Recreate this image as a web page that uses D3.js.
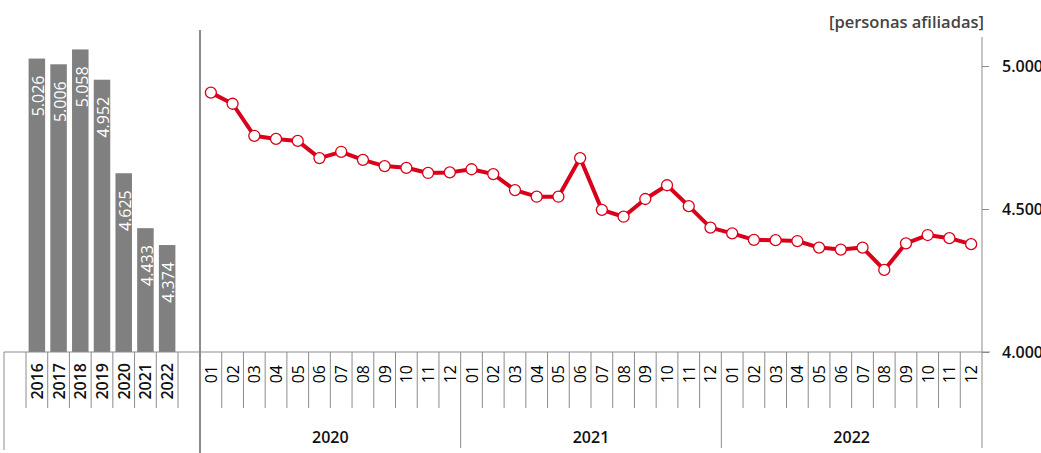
<!DOCTYPE html>
<html>
<head>
  <style>
    body { margin: 0; background: #fff; }
    svg { font-family: "Open Sans", sans-serif; }
  </style>
</head>
<body>
  <svg id="chart" width="1041" height="453"></svg>
  <script src="https://d3js.org/d3.v7.min.js"></script>
  <script>
    // yearly averages (bars)
    const years = ['2016', '2017', '2018', '2019', '2020', '2021', '2022'];
    const yearValues = [5026, 5006, 5058, 4952, 4625, 4433, 4374];

    // monthly figures (line)
    const monthYears = ['2020', '2021', '2022'];
    const monthNames = ['01', '02', '03', '04', '05', '06', '07', '08', '09', '10', '11', '12'];
    const monthValues = [
      4907, 4868, 4756, 4745, 4738, 4678, 4700, 4672, 4650, 4644, 4626, 4628,
      4639, 4622, 4566, 4543, 4543, 4678, 4497, 4473, 4535, 4583, 4510, 4435,
      4415, 4392, 4391, 4388, 4365, 4358, 4365, 4287, 4380, 4409, 4398, 4377
    ];
    const yTicks = [4000, 4500, 5000];

    const months = [];
    monthYears.forEach(y => monthNames.forEach(m => months.push(y + '-' + m)));

    const svg = d3.select('#chart');
    const axisGrey = '#8c8c8c';
    const red = '#d9001b';

    const y = d3.scaleLinear().domain([4000, 5000]).range([352, 66]);
    const xBar = d3.scaleBand().domain(years).range([26, 178]).paddingInner(0.24).paddingOuter(0.12);
    const xMonth = d3.scaleBand().domain(months).range([200, 982]);

    // bars
    svg.selectAll('.bar')
      .data(years)
      .enter()
      .append('rect')
      .attr('class', 'bar')
      .attr('x', d => xBar(d))
      .attr('width', xBar.bandwidth())
      .attr('y', (d, i) => y(yearValues[i]))
      .attr('height', (d, i) => y(4000) - y(yearValues[i]))
      .attr('fill', '#808080');

    // bar value labels
    svg.selectAll('.barlabel')
      .data(years)
      .enter()
      .append('text')
      .attr('transform', (d, i) => `translate(${xBar(d) + xBar.bandwidth() - 1}, ${y(yearValues[i]) + 17}) rotate(-90)`)
      .attr('text-anchor', 'end')
      .attr('fill', '#fff')
      .attr('font-size', 16)
      .text((d, i) => d3.format(',')(yearValues[i]).replace(',', '.'));

    // axis frame lines
    const lines = svg.append('g').attr('stroke', axisGrey).attr('fill', 'none');
    lines.append('line').attr('x1', 4).attr('x2', 990).attr('y1', y(4000)).attr('y2', y(4000));
    lines.append('line').attr('x1', 4).attr('x2', 4).attr('y1', y(4000)).attr('y2', 450);
    lines.append('line').attr('x1', 200).attr('x2', 200).attr('y1', 30).attr('y2', 453).attr('stroke-width', 2);
    lines.append('line').attr('x1', 982).attr('x2', 982).attr('y1', 37).attr('y2', 448);

    // bar category ticks
    const barStep = xBar.step();
    const barEdges = years.map(d => xBar(d) - xBar.paddingInner() * barStep / 2);
    barEdges.push(barEdges[barEdges.length - 1] + barStep);
    lines.selectAll('.bartick')
      .data(barEdges)
      .enter()
      .append('line')
      .attr('x1', d => d).attr('x2', d => d)
      .attr('y1', y(4000)).attr('y2', 408);

    svg.selectAll('.yearlabel')
      .data(years)
      .enter()
      .append('text')
      .attr('transform', d => `translate(${xBar(d) + xBar.bandwidth() / 2 + 6}, 363) rotate(-90)`)
      .attr('text-anchor', 'end')
      .attr('fill', '#111')
      .attr('font-size', 16)
      .attr('font-weight', 600)
      .text(d => d);

    // month ticks
    lines.selectAll('.mtick')
      .data(months.slice(1))
      .enter()
      .append('line')
      .attr('x1', d => xMonth(d)).attr('x2', d => xMonth(d))
      .attr('y1', y(4000))
      .attr('y2', d => d.endsWith('-01') ? 448 : 408);

    svg.selectAll('.mlabel')
      .data(months)
      .enter()
      .append('text')
      .attr('transform', d => `translate(${xMonth(d) + xMonth.bandwidth() / 2 + 6}, 365) rotate(-90)`)
      .attr('text-anchor', 'end')
      .attr('fill', '#000')
      .attr('font-size', 16)
      .attr('font-weight', 500)
      .text(d => d.slice(5));

    svg.selectAll('.ylabel')
      .data(monthYears)
      .enter()
      .append('text')
      .attr('x', d => (xMonth(d + '-01') + xMonth(d + '-12') + xMonth.bandwidth()) / 2)
      .attr('y', 443)
      .attr('text-anchor', 'middle')
      .attr('fill', '#111')
      .attr('font-size', 16)
      .attr('font-weight', 600)
      .text(d => d);

    // right axis
    const axis = svg.append('g')
      .attr('transform', 'translate(982, 0)')
      .call(d3.axisRight(y).tickValues(yTicks).tickSize(7).tickPadding(13)
        .tickFormat(d => d3.format(',')(d).replace(',', '.')));
    axis.select('.domain').remove();
    axis.selectAll('line').attr('stroke', axisGrey);
    axis.selectAll('text')
      .attr('font-family', '"Open Sans", sans-serif')
      .attr('font-size', 16)
      .attr('font-weight', 600)
      .attr('fill', '#111');

    svg.append('text')
      .attr('x', 984)
      .attr('y', 28)
      .attr('text-anchor', 'end')
      .attr('fill', '#444')
      .attr('font-size', 16.5)
      .attr('font-weight', 600)
      .text('[personas afiliadas]');

    // line
    const cx = d => xMonth(d) + xMonth.bandwidth() / 2;
    const line = d3.line()
      .x(d => cx(d))
      .y((d, i) => y(monthValues[i]));

    svg.append('path')
      .datum(months)
      .attr('d', line)
      .attr('fill', 'none')
      .attr('stroke', red)
      .attr('stroke-width', 4)
      .attr('stroke-linejoin', 'round');

    svg.selectAll('.dot')
      .data(months)
      .enter()
      .append('circle')
      .attr('cx', d => cx(d))
      .attr('cy', (d, i) => y(monthValues[i]))
      .attr('r', 5.5)
      .attr('fill', '#fff')
      .attr('stroke', red)
      .attr('stroke-width', 1.3);
  </script>
</body>
</html>
